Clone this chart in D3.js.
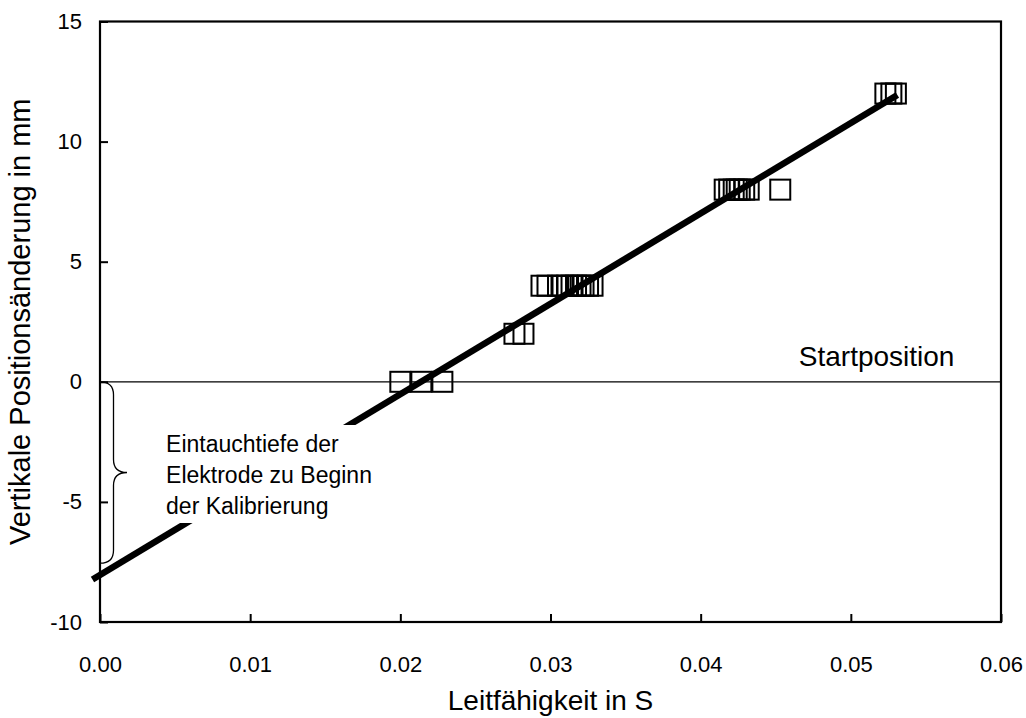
<!DOCTYPE html>
<html>
<head>
<meta charset="utf-8">
<script src="https://cdn.jsdelivr.net/npm/d3@7"></script>
<style>
	body { margin: 0; background: #fff; }
	svg { display: block; font-family: "Liberation Sans", Arial, sans-serif; }
</style>
</head>
<body>
<svg id="chart" width="1026" height="718"></svg>
<script>
'use strict';

// measured points: conductivity (S) and vertical position change (mm)
const pointsX = [
	0.0200, 0.0214, 0.0228,
	0.0276, 0.0282,
	0.0294, 0.0298, 0.0305, 0.0308, 0.0311, 0.0314, 0.0317, 0.0320, 0.0322, 0.0325, 0.0328,
	0.0416, 0.0419, 0.0422, 0.0424, 0.0426, 0.0429, 0.0432, 0.0453,
	0.0523, 0.0527, 0.0530
];
const pointsY = [
	0, 0, 0,
	2, 2,
	4, 4, 4, 4, 4, 4, 4, 4, 4, 4, 4,
	8, 8, 8, 8, 8, 8, 8, 8,
	12, 12, 12
];

// calibration line end points
const fitX = [-0.0005, 0.0531];
const fitY = [-8.23, 11.94];

const xTicks = [0, 0.01, 0.02, 0.03, 0.04, 0.05, 0.06];
const yTicks = [-10, -5, 0, 5, 10, 15];

const noteLines = ["Eintauchtiefe der", "Elektrode zu Beginn", "der Kalibrierung"];
const braceRange = [0, -7.55];

const W = 1026, H = 718;
const margin = {left: 100, right: 25, top: 21.5, bottom: 96};

const svg = d3.select("#chart");

const x = d3.scaleLinear().domain([0, 0.06]).range([margin.left, W - margin.right]);
const y = d3.scaleLinear().domain([-10, 15]).range([H - margin.bottom, margin.top]);

// data squares (no fill)
const SQ = 20;
svg.append("g")
	.selectAll("rect")
	.data(pointsX.map((d, i) => [d, pointsY[i]]))
	.join("rect")
		.attr("x", d => x(d[0]) - SQ/2)
		.attr("y", d => y(d[1]) - SQ/2)
		.attr("width", SQ)
		.attr("height", SQ)
		.attr("fill", "none")
		.attr("stroke", "#000")
		.attr("stroke-width", 2);

// start position line
svg.append("line")
	.attr("x1", x(0)).attr("x2", x(0.06))
	.attr("y1", y(0)).attr("y2", y(0))
	.attr("stroke", "#000")
	.attr("stroke-width", 1.2);

// calibration line
svg.append("path")
	.datum(fitX.map((d, i) => [d, fitY[i]]))
	.attr("d", d3.line().x(d => x(d[0])).y(d => y(d[1])))
	.attr("fill", "none")
	.attr("stroke", "#000")
	.attr("stroke-width", 6.5);

// annotation with white background
const NOTE_FS = 23, NOTE_LH = 31, NOTE_Y = 452;
const note = svg.append("g");
const noteText = note.append("text")
	.attr("font-size", NOTE_FS)
	.attr("fill", "#000");
noteLines.forEach((t, i) => {
	noteText.append("tspan")
		.attr("x", x(0.0044))
		.attr("y", NOTE_Y + i * NOTE_LH)
		.text(t);
});
const bb = noteText.node().getBBox();
const noteTop = NOTE_Y - NOTE_FS - 4;
const noteBottom = NOTE_Y + (noteLines.length - 1) * NOTE_LH + 9;
note.insert("rect", "text")
	.attr("x", bb.x - 6)
	.attr("y", noteTop)
	.attr("width", bb.width + 14)
	.attr("height", noteBottom - noteTop)
	.attr("fill", "#fff");

// curly brace
const bx = x(0), bw = 27;
const by0 = y(braceRange[0]), by1 = y(braceRange[1]);
const bm = (by0 + by1) / 2, r = 13;
const brace = d3.path();
brace.moveTo(bx, by0);
brace.quadraticCurveTo(bx + bw/2, by0, bx + bw/2, by0 + r);
brace.lineTo(bx + bw/2, bm - r);
brace.quadraticCurveTo(bx + bw/2, bm, bx + bw, bm);
brace.quadraticCurveTo(bx + bw/2, bm, bx + bw/2, bm + r);
brace.lineTo(bx + bw/2, by1 - r);
brace.quadraticCurveTo(bx + bw/2, by1, bx, by1);
svg.append("path")
	.attr("d", brace.toString())
	.attr("fill", "none")
	.attr("stroke", "#000")
	.attr("stroke-width", 1.3);

svg.append("text")
	.attr("x", x(0.0569))
	.attr("y", y(0) - 16)
	.attr("text-anchor", "end")
	.attr("font-size", 28)
	.text("Startposition");

// axes (ticks pointing inward)
const xAxis = svg.append("g")
	.attr("transform", `translate(0,${y(-10)})`)
	.call(d3.axisBottom(x).tickValues(xTicks).tickFormat(d3.format(".2f")).tickSizeInner(-8).tickSizeOuter(0).tickPadding(34));
const yAxis = svg.append("g")
	.attr("transform", `translate(${x(0)},0)`)
	.call(d3.axisLeft(y).tickValues(yTicks).tickFormat(d => String(d)).tickSizeInner(-8).tickSizeOuter(0).tickPadding(18));

[xAxis, yAxis].forEach(a => {
	a.select(".domain").remove();
	a.selectAll(".tick line").attr("stroke", "#000").attr("stroke-width", 2);
	a.selectAll(".tick text")
		.attr("font-family", "Liberation Sans, Arial, sans-serif")
		.attr("font-size", 22)
		.attr("fill", "#000");
});

// frame
svg.append("rect")
	.attr("x", x(0)).attr("y", y(15))
	.attr("width", x(0.06) - x(0))
	.attr("height", y(-10) - y(15))
	.attr("fill", "none")
	.attr("stroke", "#000")
	.attr("stroke-width", 2.2);

// axis titles
svg.append("text")
	.attr("x", (x(0) + x(0.06)) / 2)
	.attr("y", 710)
	.attr("text-anchor", "middle")
	.attr("font-size", 28)
	.text("Leitfähigkeit in S");

svg.append("text")
	.attr("transform", `translate(30,${(y(15) + y(-10)) / 2}) rotate(-90)`)
	.attr("text-anchor", "middle")
	.attr("font-size", 29)
	.text("Vertikale Positionsänderung in mm");
</script>
</body>
</html>
